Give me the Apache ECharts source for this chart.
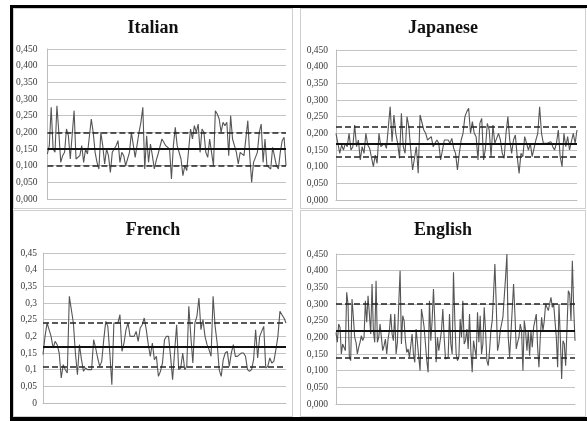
<!DOCTYPE html>
<html>
<head>
<meta charset="utf-8">
<script src="https://cdn.jsdelivr.net/npm/echarts@6/dist/echarts.min.js"></script>
<style>
  html, body { margin: 0; padding: 0; background: #fff; }
  body { width: 587px; height: 421px; position: relative; overflow: hidden; }
  .sheet { position: absolute; left: 10px; top: 5px; width: 600px; height: 409px;
           border-left: 3px solid #000; border-top: 3px solid #000; border-bottom: 4px solid #000; }
  .panel { position: absolute; }
  .frame { position: absolute; box-sizing: border-box; border: 1px solid #cfcfcf; pointer-events: none; }
</style>
</head>
<body>
<div class="sheet"></div>
<div id="italian" class="panel" style="left:13px;top:8px;width:280px;height:201px"></div>
<div id="japanese" class="panel" style="left:300px;top:8px;width:286px;height:201px"></div>
<div id="french" class="panel" style="left:13px;top:210px;width:280px;height:207px"></div>
<div id="english" class="panel" style="left:300px;top:210px;width:286px;height:207px"></div>
<div class="frame" style="left:13px;top:8px;width:280px;height:201px"></div>
<div class="frame" style="left:300px;top:8px;width:286px;height:201px"></div>
<div class="frame" style="left:13px;top:210px;width:280px;height:207px"></div>
<div class="frame" style="left:300px;top:210px;width:286px;height:207px"></div>
<script>
// Per-sample values for each language
const italianValues = [
  0.135, 0.16, 0.275, 0.15, 0.14, 0.28, 0.2, 0.11, 0.13, 0.14, 0.21, 0.19, 0.12, 0.12, 0.265,
  0.12, 0.12, 0.13, 0.16, 0.11, 0.15, 0.135, 0.135, 0.24, 0.2, 0.14, 0.11, 0.09, 0.2, 0.16,
  0.105, 0.15, 0.13, 0.08, 0.14, 0.15, 0.16, 0.175, 0.11, 0.14, 0.13, 0.1, 0.12, 0.14, 0.2,
  0.2, 0.125, 0.12, 0.2, 0.23, 0.275, 0.09, 0.19, 0.11, 0.165, 0.13, 0.09, 0.115, 0.135, 0.14,
  0.18, 0.17, 0.16, 0.16, 0.15, 0.06, 0.16, 0.215, 0.16, 0.16, 0.12, 0.07, 0.1, 0.085, 0.09,
  0.21, 0.18, 0.22, 0.2, 0.225, 0.14, 0.21, 0.2, 0.14, 0.125, 0.18, 0.14, 0.1, 0.265, 0.255,
  0.24, 0.2, 0.23, 0.22, 0.23, 0.13, 0.25, 0.18, 0.16, 0.14, 0.105, 0.14, 0.135, 0.13, 0.13,
  0.235, 0.13, 0.05, 0.11, 0.115, 0.14, 0.2, 0.225, 0.11, 0.18, 0.1, 0.1, 0.09, 0.155, 0.16,
  0.1, 0.09, 0.14, 0.175, 0.185, 0.1
];
const japaneseValues = [
  0.2, 0.2, 0.14, 0.165, 0.15, 0.17, 0.16, 0.2, 0.15, 0.16, 0.225, 0.16, 0.18, 0.12, 0.16,
  0.14, 0.2, 0.165, 0.155, 0.15, 0.1, 0.135, 0.11, 0.2, 0.16, 0.16, 0.17, 0.155, 0.16, 0.28,
  0.175, 0.255, 0.2, 0.17, 0.125, 0.26, 0.16, 0.14, 0.25, 0.22, 0.15, 0.09, 0.09, 0.16, 0.08,
  0.255, 0.25, 0.21, 0.2, 0.18, 0.18, 0.19, 0.16, 0.17, 0.18, 0.17, 0.12, 0.115, 0.18, 0.185,
  0.18, 0.17, 0.185, 0.155, 0.14, 0.09, 0.14, 0.18, 0.2, 0.25, 0.265, 0.275, 0.2, 0.235, 0.2,
  0.19, 0.12, 0.23, 0.245, 0.12, 0.155, 0.23, 0.21, 0.13, 0.225, 0.17, 0.185, 0.2, 0.18, 0.14,
  0.125, 0.2, 0.25, 0.18, 0.14, 0.18, 0.195, 0.13, 0.08, 0.14, 0.13, 0.19, 0.195, 0.15, 0.17,
  0.13, 0.155, 0.18, 0.2, 0.28, 0.2, 0.17, 0.165, 0.17, 0.175, 0.175, 0.16, 0.15, 0.17, 0.21,
  0.13, 0.1, 0.2, 0.16, 0.19, 0.15, 0.145, 0.2, 0.17, 0.21
];
const frenchValues = [
  0.145, 0.2, 0.24, 0.22, 0.2, 0.165, 0.185, 0.175, 0.15, 0.075, 0.115, 0.1, 0.09, 0.32, 0.28,
  0.24, 0.15, 0.085, 0.175, 0.13, 0.095, 0.105, 0.1, 0.1, 0.1, 0.19, 0.165, 0.135, 0.11, 0.125,
  0.19, 0.245, 0.23, 0.15, 0.055, 0.24, 0.24, 0.24, 0.265, 0.155, 0.18, 0.22, 0.24, 0.2, 0.2,
  0.2, 0.215, 0.185, 0.225, 0.235, 0.255, 0.22, 0.175, 0.14, 0.18, 0.13, 0.14, 0.08, 0.095, 0.12,
  0.19, 0.2, 0.2, 0.14, 0.07, 0.155, 0.235, 0.1, 0.105, 0.15, 0.1, 0.11, 0.29, 0.2, 0.12,
  0.24, 0.26, 0.315, 0.22, 0.25, 0.2, 0.175, 0.16, 0.14, 0.32, 0.23, 0.18, 0.1, 0.08, 0.13,
  0.15, 0.155, 0.11, 0.15, 0.175, 0.14, 0.14, 0.145, 0.15, 0.15, 0.14, 0.1, 0.095, 0.1, 0.13,
  0.22, 0.135, 0.2, 0.215, 0.23, 0.105, 0.11, 0.135, 0.12, 0.125, 0.16, 0.2, 0.275, 0.265, 0.255,
  0.24
];
const englishValues = [
  0.215, 0.185, 0.24, 0.23, 0.15, 0.18, 0.17, 0.16, 0.335, 0.3, 0.14, 0.13, 0.315, 0.26, 0.2,
  0.185, 0.15, 0.17, 0.185, 0.205, 0.19, 0.2, 0.31, 0.245, 0.325, 0.27, 0.21, 0.36, 0.22, 0.185,
  0.37, 0.185, 0.2, 0.24, 0.2, 0.16, 0.175, 0.195, 0.15, 0.195, 0.22, 0.27, 0.21, 0.19, 0.27,
  0.15, 0.185, 0.3, 0.4, 0.18, 0.265, 0.25, 0.19, 0.155, 0.165, 0.14, 0.135, 0.21, 0.15, 0.125,
  0.225, 0.22, 0.14, 0.1, 0.285, 0.26, 0.23, 0.18, 0.13, 0.095, 0.31, 0.19, 0.25, 0.345, 0.25,
  0.125, 0.2, 0.16, 0.19, 0.22, 0.285, 0.2, 0.135, 0.13, 0.14, 0.27, 0.18, 0.15, 0.395, 0.25,
  0.15, 0.13, 0.14, 0.255, 0.2, 0.31, 0.18, 0.19, 0.225, 0.165, 0.27, 0.16, 0.095, 0.19, 0.19,
  0.14, 0.275, 0.185, 0.265, 0.15, 0.18, 0.29, 0.22, 0.13, 0.115, 0.16, 0.22, 0.25, 0.33, 0.42,
  0.3, 0.16, 0.18, 0.22, 0.24, 0.26, 0.32, 0.38, 0.45, 0.2, 0.14, 0.21, 0.215, 0.36, 0.27,
  0.165, 0.185, 0.2, 0.24, 0.22, 0.1, 0.25, 0.22, 0.16, 0.22, 0.145, 0.22, 0.17, 0.23, 0.25,
  0.27, 0.17, 0.11, 0.2, 0.26, 0.22, 0.25, 0.3, 0.29, 0.28, 0.3, 0.32, 0.29, 0.3, 0.3,
  0.2, 0.11, 0.3, 0.2, 0.075, 0.19, 0.18, 0.115, 0.12, 0.34, 0.33, 0.25, 0.43, 0.29, 0.19
];

// Control bands: [lower limit, mean, upper limit]
const italianBands = [0.100, 0.152, 0.205];
const japaneseBands = [0.132, 0.175, 0.218];
const frenchBands = [0.107, 0.173, 0.238];
const englishBands = [0.141, 0.218, 0.297];

// Y axis tick values
const yTicks = [0, 0.05, 0.1, 0.15, 0.2, 0.25, 0.3, 0.35, 0.4, 0.45];

const fixed3 = v => v.toFixed(3).replace('.', ',');
const trimmed = v => String(+v.toFixed(2)).replace('.', ',');

const panels = [
  { id: 'italian', title: 'Italian', values: italianValues, bands: italianBands, fmt: fixed3,
    grid: { left: 34, top: 41, width: 239, height: 150 }, labelMargin: 10 },
  { id: 'japanese', title: 'Japanese', values: japaneseValues, bands: japaneseBands, fmt: fixed3,
    grid: { left: 36, top: 42, width: 241, height: 150 }, labelMargin: 8 },
  { id: 'french', title: 'French', values: frenchValues, bands: frenchBands, fmt: trimmed,
    grid: { left: 30, top: 43, width: 243, height: 150 }, labelMargin: 6 },
  { id: 'english', title: 'English', values: englishValues, bands: englishBands, fmt: fixed3,
    grid: { left: 36, top: 44, width: 239, height: 150 }, labelMargin: 8 }
];

const serif = 'Liberation Serif, "Times New Roman", serif';

panels.forEach(p => {
  const chart = echarts.init(document.getElementById(p.id), null, { renderer: 'canvas' });
  const [lower, mean, upper] = p.bands;
  chart.setOption({
    animation: false,
    backgroundColor: '#fff',
    title: {
      text: p.title, left: 'center', top: 11, padding: 0,
      textStyle: { fontFamily: serif, fontSize: 18, fontWeight: 'bold', color: '#111' }
    },
    grid: p.grid,
    xAxis: {
      type: 'category',
      data: p.values.map((_, i) => i + 1),
      boundaryGap: false,
      axisLine: { show: true, lineStyle: { color: '#bdbdbd', width: 1 } },
      axisTick: { show: false },
      axisLabel: { show: false },
      splitLine: { show: false }
    },
    yAxis: {
      type: 'value',
      min: yTicks[0], max: yTicks[yTicks.length - 1], interval: 0.05,
      axisLine: { show: true, lineStyle: { color: '#bdbdbd', width: 1 } },
      axisTick: { show: false },
      axisLabel: {
        fontFamily: serif, fontSize: 9.5, color: '#3a3a3a', margin: p.labelMargin,
        formatter: v => p.fmt(v)
      },
      splitLine: { show: true, lineStyle: { color: '#c4c4c4', width: 1 } }
    },
    series: [{
      type: 'line',
      data: p.values,
      symbol: 'none',
      smooth: false,
      lineStyle: { color: '#555', width: 1.1 },
      z: 2,
      markLine: {
        silent: true,
        symbol: 'none',
        label: { show: false },
        z: 3,
        data: [
          { yAxis: mean, lineStyle: { color: '#111', width: 1.8, type: 'solid' } },
          { yAxis: upper, lineStyle: { color: '#222', width: 1.5, type: [6, 3] } },
          { yAxis: lower, lineStyle: { color: '#222', width: 1.5, type: [6, 3] } }
        ]
      }
    }]
  });
});
</script>
</body>
</html>
